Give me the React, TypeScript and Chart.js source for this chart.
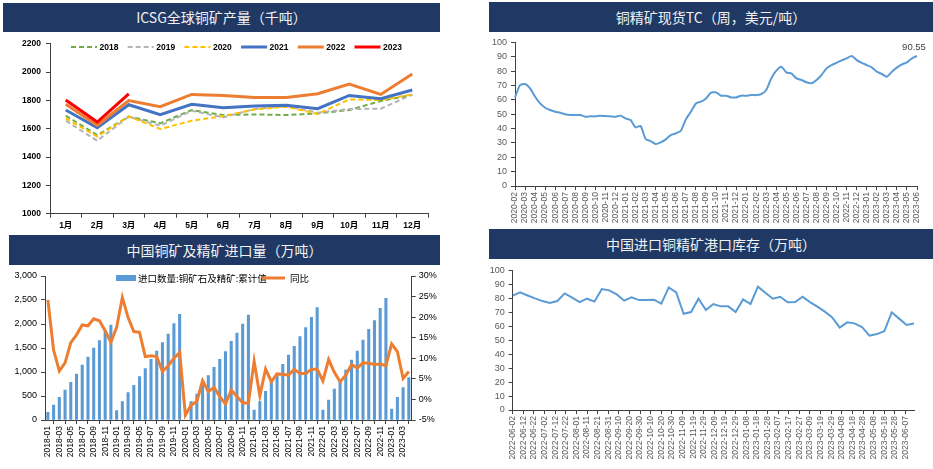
import React, { useEffect, useRef } from "react";
import { Chart, registerables } from "chart.js";

Chart.register(...registerables);

const SANS = '"Liberation Sans", Arial, "Noto Sans CJK SC", sans-serif';
const CJK = '"Noto Sans CJK SC", "Liberation Sans", sans-serif';

// ---------- ICSG global copper mine production (kt) ----------
const icsgMonths = ["1月", "2月", "3月", "4月", "5月", "6月", "7月", "8月", "9月", "10月", "11月", "12月"];
const icsg2018 = [1692, 1555, 1685, 1638, 1732, 1696, 1701, 1696, 1708, 1732, 1795, 1838];
const icsg2019 = [1656, 1515, 1685, 1621, 1727, 1680, 1739, 1760, 1713, 1739, 1741, 1842];
const icsg2020 = [1673, 1544, 1687, 1598, 1656, 1689, 1736, 1755, 1704, 1807, 1802, 1842];
const icsg2021 = [1732, 1607, 1769, 1699, 1772, 1748, 1760, 1765, 1741, 1835, 1812, 1873];
const icsg2022 = [1772, 1624, 1798, 1755, 1842, 1835, 1821, 1821, 1847, 1915, 1842, 1986];
const icsg2023 = [1802, 1647, 1845];

// ---------- Copper concentrate spot TC (half-monthly readings) ----------
const tcMonthLabels = [
  "2020-02", "2020-03", "2020-04", "2020-05", "2020-06", "2020-07", "2020-08", "2020-09", "2020-10", "2020-11", "2020-12",
  "2021-01", "2021-02", "2021-03", "2021-04", "2021-05", "2021-06", "2021-07", "2021-08", "2021-09", "2021-10", "2021-11", "2021-12",
  "2022-01", "2022-02", "2022-03", "2022-04", "2022-05", "2022-06", "2022-07", "2022-08", "2022-09", "2022-10", "2022-11", "2022-12",
  "2023-01", "2023-02", "2023-03", "2023-04", "2023-05", "2023-06",
];
const tcValues = [
  61.7, 70.3, 71.0, 68.0, 62.2, 57.5, 54.5, 52.9, 51.7, 51.0,
  49.9, 49.4, 49.4, 49.4, 48.3, 48.5, 48.5, 49.0, 48.7, 48.5,
  48.3, 49.0, 47.1, 45.9, 40.8, 41.8, 32.7, 31.3, 29.2, 30.4,
  32.5, 35.5, 36.7, 38.5, 46.4, 51.7, 57.5, 58.7, 61.0, 65.0,
  65.2, 62.9, 62.9, 61.7, 61.7, 62.9, 62.9, 63.3, 63.3, 64.0,
  66.8, 74.9, 80.3, 83.1, 79.1, 78.4, 74.9, 73.8, 72.2, 71.5,
  73.8, 77.3, 81.9, 84.2, 85.8, 87.5, 88.9, 90.5, 87.7, 85.8,
  84.2, 82.6, 79.6, 78.0, 76.1, 79.6, 82.4, 84.7, 86.1, 88.9,
  90.55,
];
const tcLastLabel = "90.55";

// ---------- China copper ore & concentrate imports ----------
const importMonths = [
  "2018-01", "2018-02", "2018-03", "2018-04", "2018-05", "2018-06", "2018-07", "2018-08", "2018-09", "2018-10", "2018-11", "2018-12",
  "2019-01", "2019-02", "2019-03", "2019-04", "2019-05", "2019-06", "2019-07", "2019-08", "2019-09", "2019-10", "2019-11", "2019-12",
  "2020-01", "2020-02", "2020-03", "2020-04", "2020-05", "2020-06", "2020-07", "2020-08", "2020-09", "2020-10", "2020-11", "2020-12",
  "2021-01", "2021-02", "2021-03", "2021-04", "2021-05", "2021-06", "2021-07", "2021-08", "2021-09", "2021-10", "2021-11", "2021-12",
  "2022-01", "2022-02", "2022-03", "2022-04", "2022-05", "2022-06", "2022-07", "2022-08", "2022-09", "2022-10", "2022-11", "2022-12",
  "2023-01", "2023-02", "2023-03", "2023-04",
];
const importCumulative = [
  160, 312, 472, 625, 785, 958, 1146, 1312, 1500, 1653, 1840, 1979,
  194, 382, 569, 722, 903, 1069, 1264, 1437, 1611, 1792, 2010, 2200,
  null, 382, 542, 729, 924, 1097, 1264, 1424, 1639, 1813, 2000, 2188,
  208, 382, 597, 790, 972, 1160, 1354, 1535, 1736, 1924, 2139, 2340,
  208, 417, 646, 830, 1042, 1250, 1437, 1667, 1889, 2069, 2326, 2535,
  229, 472, 674, 882,
];
const importYoY = [
  24.2, 12.0, 6.9, 8.9, 13.8, 15.7, 18.1, 17.9, 19.6, 19.1, 16.7, 13.9,
  17.5, 24.8, 19.9, 16.5, 16.3, 10.4, 10.6, 10.4, 6.8, 8.2, 10.0, 11.4,
  -3.8, -1.4, -0.5, 4.6, 1.9, 2.9, 0.7, -1.1, 2.3, 0.7, -0.8, -0.9,
  9.3, 0.9, 7.4, 4.3, 6.2, 6.1, 5.9, 7.3, 6.3, 6.3, 7.3, 7.4,
  4.5, 9.7, 6.6, 4.3, 5.9, 8.5, 7.6, 8.9, 8.8, 8.5, 8.6, 8.2,
  13.5, 11.6, 5.1, 6.8,
];
const importBarLabel = "进口数量:铜矿石及精矿:累计值";
const importLineLabel = "同比";

// ---------- Port inventory of imported copper concentrate (weekly) ----------
const inventoryStart = "2022-06-02";
const inventoryStepDays = 7;
const inventoryValues = [
  82.1, 84.4, 82.2, 80.1, 78.2, 76.8, 78.2, 83.7, 80.6, 77.5,
  79.9, 77.8, 86.8, 85.9, 83.0, 78.5, 80.9, 78.9, 79.0, 79.2,
  76.3, 88.0, 84.4, 69.1, 70.3, 79.9, 71.8, 76.1, 74.4, 74.4,
  70.3, 79.4, 76.1, 88.5, 84.2, 79.9, 81.3, 77.3, 77.5, 81.3,
  77.5, 74.2, 70.6, 66.5, 59.1, 62.9, 62.2, 59.6, 53.3, 54.5,
  56.5, 70.1, 65.6, 61.0, 62.2,
];
const inventoryTickStepDays = 10;

const titles = [
  "ICSG全球铜矿产量（千吨）",
  "铜精矿现货TC（周，美元/吨）",
  "中国铜矿及精矿进口量（万吨）",
  "中国进口铜精矿港口库存（万吨）",
];

const AXIS = "#404040";
const DAY = 86400000;

function dateFromOffset(start: string, days: number) {
  const [y, m, d] = start.split("-").map(Number);
  return new Date(Date.UTC(y, m - 1, d) + days * DAY).toISOString().slice(0, 10);
}

function makeIcsg(canvas: HTMLCanvasElement) {
  const series = [
    { label: "2018", data: icsg2018, color: "#70ad47", dash: [5, 3], w: 2 },
    { label: "2019", data: icsg2019, color: "#b4b4b4", dash: [5, 3], w: 2 },
    { label: "2020", data: icsg2020, color: "#ffc000", dash: [5, 3], w: 2 },
    { label: "2021", data: icsg2021, color: "#4472c4", dash: [], w: 3 },
    { label: "2022", data: icsg2022, color: "#ed7d31", dash: [], w: 3 },
    { label: "2023", data: icsg2023, color: "#ff0000", dash: [], w: 3 },
  ];
  const legendPlugin = {
    id: "icsgLegend",
    afterDraw(chart: any) {
      const ctx = chart.ctx;
      ctx.save();
      const y = 14;
      series.forEach((s, i) => {
        const x0 = 71 + 56.7 * i;
        ctx.beginPath();
        ctx.setLineDash(s.dash);
        ctx.strokeStyle = s.color;
        ctx.lineWidth = s.w;
        ctx.moveTo(x0, y);
        ctx.lineTo(x0 + 26, y);
        ctx.stroke();
        ctx.setLineDash([]);
        ctx.fillStyle = "#000";
        ctx.font = `bold 8.5px ${SANS}`;
        ctx.textBaseline = "middle";
        ctx.textAlign = "left";
        ctx.fillText(s.label, x0 + 28.5, y + 0.5);
      });
      ctx.restore();
    },
  };
  return new Chart(canvas, {
    type: "line",
    data: {
      labels: icsgMonths,
      datasets: series.map((s, i) => ({
        label: s.label,
        data: s.data,
        borderColor: s.color,
        backgroundColor: s.color,
        borderDash: s.dash,
        borderWidth: s.w,
        order: 5 - i,
      })),
    },
    options: {
      responsive: false,
      animation: false,
      layout: { padding: { left: 0, right: 12, top: 10.7, bottom: 0 } },
      elements: { point: { radius: 0 }, line: { tension: 0 } },
      plugins: { legend: { display: false }, tooltip: { enabled: false } },
      scales: {
        x: {
          offset: true,
          grid: { display: true, drawOnChartArea: false, offset: true, tickLength: 4, color: AXIS },
          border: { display: true, color: AXIS },
          ticks: { color: "#000", font: { family: SANS, size: 8.5, weight: "bold" }, padding: 3, maxRotation: 0 },
          afterFit: (s: any) => { s.height = 19.3; },
        },
        y: {
          min: 1000,
          max: 2200,
          grid: { display: true, drawOnChartArea: false, tickLength: 4, color: AXIS },
          border: { display: true, color: AXIS },
          ticks: {
            stepSize: 200,
            color: "#000",
            font: { family: SANS, size: 8.5, weight: "bold" },
            padding: 5,
            callback: (v: any) => String(v),
          },
          afterFit: (s: any) => { s.width = 50; },
        },
      },
    },
    plugins: [legendPlugin],
  } as any);
}

function makeTc(canvas: HTMLCanvasElement) {
  const labels = tcValues.map((_, i) => (i % 2 === 0 ? tcMonthLabels[i / 2] : ""));
  const labelPlugin = {
    id: "tcLastLabel",
    afterDatasetsDraw(chart: any) {
      const meta = chart.getDatasetMeta(0);
      const pt = meta.data[meta.data.length - 1];
      const ctx = chart.ctx;
      ctx.save();
      ctx.fillStyle = "#404040";
      ctx.font = `9.5px ${SANS}`;
      ctx.textAlign = "center";
      ctx.textBaseline = "bottom";
      ctx.fillText(tcLastLabel, pt.x - 3, pt.y - 4);
      ctx.restore();
    },
  };
  return new Chart(canvas, {
    type: "line",
    data: {
      labels,
      datasets: [
        { label: "TC", data: tcValues, borderColor: "#5b9bd5", backgroundColor: "#5b9bd5", borderWidth: 2 },
      ],
    },
    options: {
      responsive: false,
      animation: false,
      layout: { padding: { left: 0, right: 16, top: 9.3, bottom: 0 } },
      elements: { point: { radius: 0 }, line: { tension: 0.2 } },
      plugins: { legend: { display: false }, tooltip: { enabled: false } },
      scales: {
        x: {
          grid: { display: true, drawOnChartArea: false, tickLength: 4, color: AXIS },
          border: { display: true, color: AXIS },
          ticks: {
            autoSkip: false,
            minRotation: 90,
            maxRotation: 90,
            color: "#595959",
            padding: 2,
            font: { family: SANS, size: 8.5 },
            callback: (_v: any, i: number) => (i % 2 === 0 ? labels[i] : null),
          },
          afterFit: (s: any) => { s.height = 43; },
        },
        y: {
          min: 0,
          max: 100,
          grid: { display: true, drawOnChartArea: false, tickLength: 4, color: AXIS },
          border: { display: true, color: AXIS },
          ticks: { stepSize: 10, color: "#595959", font: { family: SANS, size: 9 }, padding: 4 },
          afterFit: (s: any) => { s.width = 45; },
        },
      },
    },
    plugins: [labelPlugin],
  } as any);
}

function makeImport(canvas: HTMLCanvasElement) {
  const legendPlugin = {
    id: "importLegend",
    afterDraw(chart: any) {
      const ctx = chart.ctx;
      ctx.save();
      const y = 13;
      ctx.fillStyle = "#5b9bd5";
      ctx.fillRect(116, y - 3, 20, 6);
      ctx.fillStyle = "#000";
      ctx.font = `9.5px ${CJK}`;
      ctx.textBaseline = "middle";
      ctx.textAlign = "left";
      ctx.fillText(importBarLabel, 138, y);
      ctx.beginPath();
      ctx.strokeStyle = "#ed7d31";
      ctx.lineWidth = 3;
      ctx.moveTo(262, y);
      ctx.lineTo(285, y);
      ctx.stroke();
      ctx.fillText(importLineLabel, 290, y);
      ctx.restore();
    },
  };
  return new Chart(canvas, {
    type: "bar",
    data: {
      labels: importMonths,
      datasets: [
        {
          type: "line",
          label: importLineLabel,
          data: importYoY,
          yAxisID: "y1",
          borderColor: "#ed7d31",
          backgroundColor: "#ed7d31",
          borderWidth: 3,
          pointRadius: 0,
          tension: 0,
          order: 0,
        },
        {
          type: "bar",
          label: importBarLabel,
          data: importCumulative,
          yAxisID: "y",
          backgroundColor: "#5b9bd5",
          barThickness: 2.4,
          order: 1,
        },
      ],
    },
    options: {
      responsive: false,
      animation: false,
      layout: { padding: { left: 0, right: 0, top: 11, bottom: 0 } },
      plugins: { legend: { display: false }, tooltip: { enabled: false } },
      scales: {
        x: {
          offset: true,
          grid: { display: true, drawOnChartArea: false, offset: true, tickLength: 4, color: AXIS },
          border: { display: true, color: AXIS },
          ticks: {
            autoSkip: false,
            minRotation: 90,
            maxRotation: 90,
            color: "#000",
            padding: 2,
            font: { family: SANS, size: 8.5 },
            callback: (_v: any, i: number) => (i % 2 === 0 ? importMonths[i] : null),
          },
          afterFit: (s: any) => { s.height = 49; },
        },
        y: {
          position: "left",
          min: 0,
          max: 3000,
          grid: { display: true, drawOnChartArea: false, tickLength: 4, color: AXIS },
          border: { display: true, color: AXIS },
          ticks: {
            stepSize: 500,
            color: "#000",
            font: { family: SANS, size: 9 },
            padding: 4,
            callback: (v: any) => Number(v).toLocaleString("en-US"),
          },
          afterFit: (s: any) => { s.width = 45; },
        },
        y1: {
          position: "right",
          min: -5,
          max: 30,
          grid: { display: true, drawOnChartArea: false, tickLength: 4, color: AXIS },
          border: { display: true, color: AXIS },
          ticks: {
            stepSize: 5,
            color: "#000",
            font: { family: SANS, size: 9 },
            padding: 3,
            callback: (v: any) => `${v}%`,
          },
          afterFit: (s: any) => { s.width = 28.3; },
        },
      },
    },
    plugins: [legendPlugin],
  } as any);
}

function makeInventory(canvas: HTMLCanvasElement) {
  const points = inventoryValues.map((v, i) => ({ x: i * inventoryStepDays, y: v }));
  const lastDay = (inventoryValues.length - 1) * inventoryStepDays;
  return new Chart(canvas, {
    type: "line",
    data: {
      datasets: [
        { label: "库存", data: points, borderColor: "#5b9bd5", backgroundColor: "#5b9bd5", borderWidth: 2 },
      ],
    },
    options: {
      responsive: false,
      animation: false,
      layout: { padding: { left: 0, right: 19, top: 11.7, bottom: 0 } },
      elements: { point: { radius: 0 }, line: { tension: 0 } },
      plugins: { legend: { display: false }, tooltip: { enabled: false } },
      scales: {
        x: {
          type: "linear",
          min: 0,
          max: lastDay,
          grid: { display: true, drawOnChartArea: false, tickLength: 4, color: AXIS },
          border: { display: true, color: AXIS },
          afterBuildTicks: (s: any) => {
            const t = [];
            for (let d = 0; d <= lastDay; d += inventoryTickStepDays) t.push({ value: d });
            s.ticks = t;
          },
          ticks: {
            autoSkip: false,
            minRotation: 90,
            maxRotation: 90,
            color: "#595959",
            padding: 2,
            font: { family: SANS, size: 8.5 },
            callback: (v: any) => dateFromOffset(inventoryStart, Number(v)),
          },
          afterFit: (s: any) => { s.height = 59; },
        },
        y: {
          min: 0,
          max: 100,
          grid: { display: true, drawOnChartArea: false, tickLength: 4, color: AXIS },
          border: { display: true, color: AXIS },
          ticks: { stepSize: 10, color: "#595959", font: { family: SANS, size: 9 }, padding: 4 },
          afterFit: (s: any) => { s.width = 42.7; },
        },
      },
    },
  } as any);
}

function TitleBar(props: { text: string; left: number; top: number; width: number; height: number }) {
  const { text, left, top, width, height } = props;
  return (
    <div
      style={{
        position: "absolute",
        left,
        top,
        width,
        height,
        background: "#1f3864",
        color: "#f2f2f2",
        fontFamily: CJK,
        fontSize: 14,
        lineHeight: `${height}px`,
        textAlign: "center",
        whiteSpace: "nowrap",
      }}
    >
      {text}
    </div>
  );
}

export default function App() {
  const r1 = useRef<HTMLCanvasElement>(null);
  const r2 = useRef<HTMLCanvasElement>(null);
  const r3 = useRef<HTMLCanvasElement>(null);
  const r4 = useRef<HTMLCanvasElement>(null);

  useEffect(() => {
    const charts = [
      makeIcsg(r1.current!),
      makeTc(r2.current!),
      makeImport(r3.current!),
      makeInventory(r4.current!),
    ];
    return () => charts.forEach((c) => c.destroy());
  }, []);

  const cv = (left: number, top: number, w: number, h: number) => ({
    position: "absolute" as const,
    left,
    top,
    width: w,
    height: h,
  });

  return (
    <div style={{ position: "fixed", left: 0, top: 0, width: 933, height: 469, background: "#fff", overflow: "hidden" }}>
      <TitleBar text={titles[0]} left={3} top={3} width={437} height={29} />
      <TitleBar text={titles[1]} left={489} top={2} width={444} height={30} />
      <TitleBar text={titles[2]} left={9} top={235} width={431} height={30} />
      <TitleBar text={titles[3]} left={489} top={229} width={444} height={30} />
      <canvas ref={r1} width={440} height={200} style={cv(0, 33, 440, 200)} />
      <canvas ref={r2} width={463} height={196} style={cv(470, 33, 463, 196)} />
      <canvas ref={r3} width={440} height={204} style={cv(0, 265, 440, 204)} />
      <canvas ref={r4} width={463} height={210} style={cv(470, 259, 463, 210)} />
    </div>
  );
}
